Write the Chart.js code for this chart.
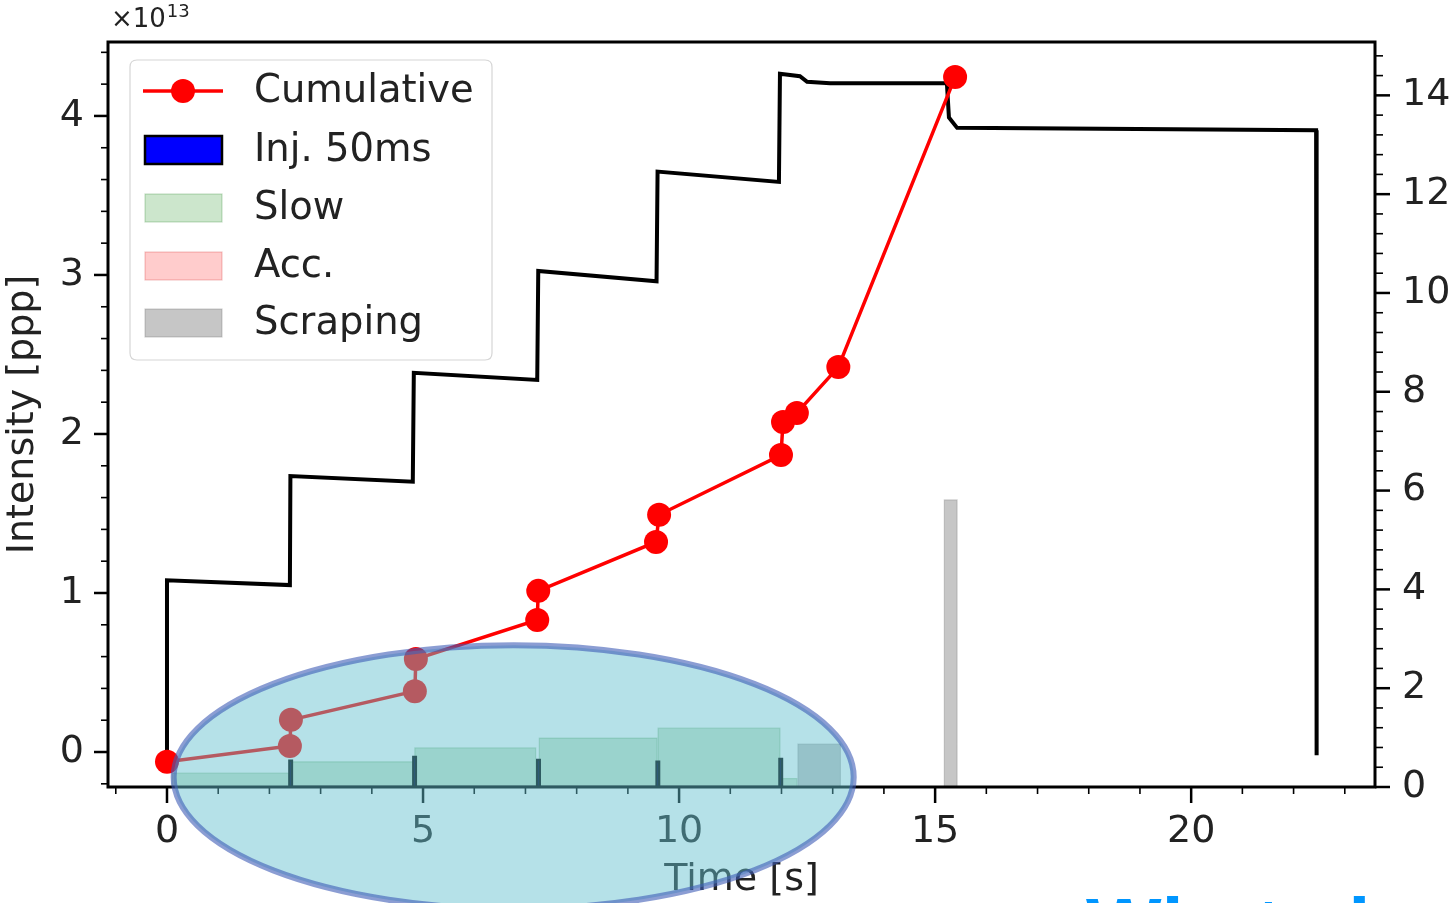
<!DOCTYPE html>
<html><head><meta charset="utf-8">
<script src="https://cdn.jsdelivr.net/npm/chart.js@4.4.1/dist/chart.umd.min.js"></script>
<style>
html,body{margin:0;padding:0;background:#fff;overflow:hidden;width:1454px;height:903px;}
#wrap{position:relative;width:1454px;height:903px;overflow:hidden;}
canvas{position:absolute;left:0;top:0;}
#note{position:absolute;left:1086px;top:887px;font:bold 80px "Liberation Sans",Arial,sans-serif;color:#0096ff;white-space:nowrap;line-height:1;}
</style></head><body>
<div id="wrap"><canvas id="c" width="1454" height="903"></canvas><div id="note">What about the</div></div>
<script>
// ---- data ----
const intensityTime = [0, 0, 2.40, 2.41, 4.80, 4.82, 7.23, 7.25, 9.56, 9.58, 11.95, 11.97, 12.36, 12.50, 12.95, 15.23, 15.27, 15.43, 22.44, 22.45];
const intensityValue = [-0.02, 1.08, 1.05, 1.735, 1.70, 2.385, 2.34, 3.025, 2.96, 3.65, 3.585, 4.265, 4.25, 4.215, 4.205, 4.205, 3.99, 3.925, 3.91, -0.02];

const cumTime = [0, 2.40, 2.42, 4.84, 4.86, 7.23, 7.25, 9.55, 9.61, 11.99, 12.03, 12.30, 13.11, 15.39];
const cumValue = [0.51, 0.83, 1.36, 1.94, 2.59, 3.38, 3.97, 4.96, 5.51, 6.72, 7.39, 7.57, 8.50, 14.37];

const injStart = [2.39, 4.81, 7.23, 9.56, 11.96];
const injEnd = [2.44, 4.86, 7.28, 9.61, 12.01];
const injHeight = [0.53, 0.61, 0.55, 0.51, 0.57];

const slowStart = [0.10, 2.42, 4.84, 7.27, 9.59, 12.00];
const slowEnd = [2.38, 4.80, 7.20, 9.57, 11.97, 12.30];
const slowHeight = [0.28, 0.51, 0.79, 0.99, 1.19, 0.17];

const accStart = [];
const accEnd = [];
const accHeight = [];

const scrapeStart = [12.32, 15.18];
const scrapeEnd = [13.15, 15.43];
const scrapeHeight = [0.87, 5.81];

const xTicks = [0, 5, 10, 15, 20];
const yTicks = [0, 1, 2, 3, 4];
const y2Ticks = [0, 2, 4, 6, 8, 10, 12, 14];
const legendLabels = ['Cumulative', 'Inj. 50ms', 'Slow', 'Acc.', 'Scraping'];
const xTitle = 'Time [s]';
const yTitle = 'Intensity [ppp]';
const multiplierBase = '×10';
const multiplierExp = '13';

// ---- helpers ----
function rects(s, e, h) {
  const pts = [];
  for (let i = 0; i < s.length; i++) {
    pts.push({x: s[i], y: 0}, {x: s[i], y: h[i]}, {x: e[i], y: h[i]}, {x: e[i], y: 0});
  }
  return pts;
}
function pairs(xs, ys) { return xs.map((x, i) => ({x: x, y: ys[i]})); }

const TXT = '#222222';
const FONT = "'DejaVu Sans', sans-serif";

const styles = {
  cum: {color: '#ff0000'},
  inj: {fill: '#0000ff', edge: '#000000'},
  slow: {fill: 'rgba(0,128,0,0.2)', edge: 'rgba(0,110,0,0.22)'},
  acc: {fill: 'rgba(255,0,0,0.2)', edge: 'rgba(200,0,0,0.22)'},
  scrape: {fill: 'rgba(128,128,128,0.45)', edge: 'rgba(110,110,110,0.3)'}
};

const mplPlugin = {
  id: 'mpl',
  afterDraw(chart) {
    const ctx = chart.ctx, a = chart.chartArea;
    const sx = chart.scales.x, sy = chart.scales.y, sy2 = chart.scales.y2;
    ctx.save();
    function seg(x1, y1, x2, y2, w) {
      ctx.beginPath(); ctx.lineWidth = w; ctx.strokeStyle = '#000';
      ctx.moveTo(x1, y1); ctx.lineTo(x2, y2); ctx.stroke();
    }
    // spines
    ctx.lineWidth = 3; ctx.strokeStyle = '#000';
    ctx.strokeRect(a.left, a.top, a.right - a.left, a.bottom - a.top);
    // x ticks
    xTicks.forEach(v => { const p = sx.getPixelForValue(v); seg(p, a.bottom, p, a.bottom + 16, 2.5); });
    for (let v = -1; v <= 23; v++) {
      if (v % 5 === 0) continue;
      const p = sx.getPixelForValue(v); seg(p, a.bottom, p, a.bottom + 7, 1.6);
    }
    // left y ticks
    yTicks.forEach(v => { const p = sy.getPixelForValue(v); seg(a.left - 14, p, a.left, p, 2.5); });
    for (let k = -1; k <= 22; k++) {
      if (k % 5 === 0) continue;
      const p = sy.getPixelForValue(k * 0.2);
      if (p < a.top || p > a.bottom) continue;
      seg(a.left - 7, p, a.left, p, 1.6);
    }
    // right y ticks
    y2Ticks.forEach(v => { const p = sy2.getPixelForValue(v); seg(a.right, p, a.right + 15, p, 2.5); });
    for (let k = 1; k <= 37; k++) {
      if (k % 5 === 0) continue;
      const p = sy2.getPixelForValue(k * 0.4);
      if (p < a.top) continue;
      seg(a.right, p, a.right + 8, p, 1.6);
    }
    // multiplier label
    ctx.fillStyle = TXT; ctx.textBaseline = 'middle'; ctx.textAlign = 'left';
    ctx.font = '26px ' + FONT;
    ctx.fillText(multiplierBase, a.left + 3, 20);
    const w0 = ctx.measureText(multiplierBase).width;
    ctx.font = '18px ' + FONT;
    ctx.fillText(multiplierExp, a.left + 3 + w0 + 1, 12);

    // legend
    const bx = 130, by = 60, bw = 362, bh = 300, r = 7;
    ctx.beginPath();
    ctx.moveTo(bx + r, by); ctx.lineTo(bx + bw - r, by); ctx.quadraticCurveTo(bx + bw, by, bx + bw, by + r);
    ctx.lineTo(bx + bw, by + bh - r); ctx.quadraticCurveTo(bx + bw, by + bh, bx + bw - r, by + bh);
    ctx.lineTo(bx + r, by + bh); ctx.quadraticCurveTo(bx, by + bh, bx, by + bh - r);
    ctx.lineTo(bx, by + r); ctx.quadraticCurveTo(bx, by, bx + r, by); ctx.closePath();
    ctx.fillStyle = 'rgba(255,255,255,0.8)'; ctx.fill();
    ctx.lineWidth = 1.2; ctx.strokeStyle = '#d6d6d6'; ctx.stroke();
    const rows = [91, 150, 208, 266, 323];
    const patches = [null, styles.inj, styles.slow, styles.acc, styles.scrape];
    rows.forEach((cy, i) => {
      if (i === 0) {
        ctx.beginPath(); ctx.lineWidth = 3.5; ctx.strokeStyle = styles.cum.color;
        ctx.moveTo(143, cy); ctx.lineTo(223, cy); ctx.stroke();
        ctx.beginPath(); ctx.fillStyle = styles.cum.color; ctx.arc(183, cy, 12, 0, Math.PI * 2); ctx.fill();
      } else {
        const st = patches[i];
        ctx.fillStyle = '#fff'; ctx.fillRect(145, cy - 14, 77, 28);
        ctx.fillStyle = st.fill; ctx.fillRect(145, cy - 14, 77, 28);
        ctx.lineWidth = i === 1 ? 2.5 : 1.2; ctx.strokeStyle = st.edge;
        ctx.strokeRect(145, cy - 14, 77, 28);
      }
      ctx.fillStyle = TXT; ctx.font = '38.5px ' + FONT; ctx.textBaseline = 'middle'; ctx.textAlign = 'left';
      ctx.fillText(legendLabels[i], 254, cy + 1);
    });

    // highlight ellipse (annotation overlay, in data units)
    const cx = sx.getPixelForValue(6.77), cyE = sy2.getPixelForValue(0.20);
    const rx = sx.getPixelForValue(6.77 + 6.64) - cx;
    const ry = cyE - sy2.getPixelForValue(0.20 + 2.67);
    ctx.beginPath(); ctx.ellipse(cx, cyE, rx, ry, 0, 0, Math.PI * 2);
    ctx.fillStyle = 'rgba(98,191,206,0.47)'; ctx.fill();
    ctx.lineWidth = 6; ctx.strokeStyle = 'rgba(62,92,182,0.6)'; ctx.stroke();
    ctx.restore();
  }
};

function noPad(s) { s.paddingTop = 0; s.paddingBottom = 0; s.paddingLeft = 0; s.paddingRight = 0; }

const tickFont = {family: FONT, size: 38};
const chart = new Chart(document.getElementById('c'), {
  type: 'line',
  data: {
    datasets: [
      {label: legendLabels[0], data: pairs(cumTime, cumValue), yAxisID: 'y2', borderColor: styles.cum.color,
       backgroundColor: styles.cum.color, borderWidth: 3.5, pointRadius: 12, pointHoverRadius: 12, pointBorderWidth: 0, order: 0},
      {label: 'Intensity', data: pairs(intensityTime, intensityValue), yAxisID: 'y', borderColor: '#000',
       borderWidth: 4, pointRadius: 0, order: 1, fill: false},
      {label: legendLabels[1], data: rects(injStart, injEnd, injHeight), yAxisID: 'y2', fill: 'origin',
       backgroundColor: styles.inj.fill, borderColor: styles.inj.edge, borderWidth: 2.4, pointRadius: 0, order: 2},
      {label: legendLabels[2], data: rects(slowStart, slowEnd, slowHeight), yAxisID: 'y2', fill: 'origin',
       backgroundColor: styles.slow.fill, borderColor: styles.slow.edge, borderWidth: 1.2, pointRadius: 0, order: 3},
      {label: legendLabels[3], data: rects(accStart, accEnd, accHeight), yAxisID: 'y2', fill: 'origin',
       backgroundColor: styles.acc.fill, borderColor: styles.acc.edge, borderWidth: 1.2, pointRadius: 0, order: 3},
      {label: legendLabels[4], data: rects(scrapeStart, scrapeEnd, scrapeHeight), yAxisID: 'y2', fill: 'origin',
       backgroundColor: styles.scrape.fill, borderColor: styles.scrape.edge, borderWidth: 1.2, pointRadius: 0, order: 3}
    ]
  },
  options: {
    responsive: false, animation: false, devicePixelRatio: 1,
    layout: {padding: {top: 42, left: 0, right: 0, bottom: 0}},
    plugins: {legend: {display: false}, tooltip: {enabled: false}},
    elements: {line: {tension: 0}},
    scales: {
      x: {type: 'linear', position: 'bottom', min: -1.152, max: 23.59,
        grid: {display: false, drawTicks: false}, border: {display: false},
        afterBuildTicks: s => { s.ticks = xTicks.map(v => ({value: v})); },
        afterFit: s => { s.height = 116; noPad(s); },
        ticks: {font: tickFont, color: TXT, padding: 22, maxRotation: 0, autoSkip: false},
        title: {display: true, text: xTitle, font: {family: FONT, size: 38}, color: TXT, padding: {top: 0, bottom: 0}}
      },
      y: {type: 'linear', position: 'left', min: -0.220, max: 4.465,
        grid: {display: false, drawTicks: false}, border: {display: false},
        afterBuildTicks: s => { s.ticks = yTicks.map(v => ({value: v})); },
        afterFit: s => { s.width = 108; noPad(s); },
        ticks: {font: tickFont, color: TXT, padding: 24, autoSkip: false},
        title: {display: true, text: yTitle, font: {family: FONT, size: 38}, color: TXT, padding: {top: 0, bottom: 0}}
      },
      y2: {type: 'linear', position: 'right', min: 0, max: 15.08,
        grid: {display: false, drawTicks: false}, border: {display: false},
        afterBuildTicks: s => { s.ticks = y2Ticks.map(v => ({value: v})); },
        afterFit: s => { s.width = 79; noPad(s); },
        ticks: {font: tickFont, color: TXT, padding: 27, autoSkip: false}
      }
    }
  },
  plugins: [mplPlugin]
});
</script>
</body></html>
